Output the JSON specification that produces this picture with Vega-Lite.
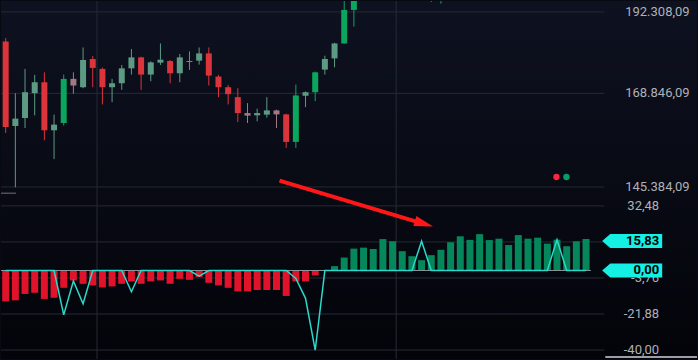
{
  "$schema": "https://vega.github.io/schema/vega-lite/v6.json",
  "width": 698,
  "height": 360,
  "autosize": {"type": "fit", "contains": "padding"},
  "padding": 0,
  "background": "#080a13",
  "config": {
    "view": {"stroke": null, "fill": {"gradient": "linear", "x1": 0, "y1": 0, "x2": 0, "y2": 1, "stops": [{"offset": 0, "color": "#0e1120"}, {"offset": 1, "color": "#030409"}]}},
    "axis": {"disable": true},
    "scale": {"continuousPadding": 0}
  },
  "datasets": {
    "candles": [
      {"i": 0, "o": 183440, "h": 184440, "l": 158490, "c": 160010, "k": "dn"},
      {"i": 1, "o": 160260, "h": 168890, "l": 145310, "c": 162160, "k": "upw"},
      {"i": 2, "o": 162320, "h": 175570, "l": 159750, "c": 169160, "k": "upw"},
      {"i": 3, "o": 168890, "h": 173910, "l": 163010, "c": 171870, "k": "upw"},
      {"i": 4, "o": 171870, "h": 174620, "l": 156660, "c": 159170, "k": "dn"},
      {"i": 5, "o": 159170, "h": 163200, "l": 152000, "c": 160620, "k": "upw"},
      {"i": 6, "o": 161030, "h": 173990, "l": 160370, "c": 172800, "k": "up"},
      {"i": 7, "o": 172800, "h": 174620, "l": 168730, "c": 170970, "k": "dnw"},
      {"i": 8, "o": 170510, "h": 181700, "l": 170240, "c": 178100, "k": "upw"},
      {"i": 9, "o": 178380, "h": 179240, "l": 170510, "c": 175850, "k": "dn"},
      {"i": 10, "o": 175570, "h": 175940, "l": 165890, "c": 170510, "k": "dn"},
      {"i": 11, "o": 170510, "h": 172800, "l": 166490, "c": 171600, "k": "upw"},
      {"i": 12, "o": 171600, "h": 176690, "l": 169800, "c": 175740, "k": "upw"},
      {"i": 13, "o": 175740, "h": 181240, "l": 173990, "c": 178840, "k": "upw"},
      {"i": 14, "o": 178840, "h": 179040, "l": 169800, "c": 173990, "k": "dn"},
      {"i": 15, "o": 173990, "h": 177700, "l": 172140, "c": 177420, "k": "upw"},
      {"i": 16, "o": 177340, "h": 182860, "l": 176690, "c": 178180, "k": "upw"},
      {"i": 17, "o": 177810, "h": 178100, "l": 171600, "c": 174350, "k": "dn"},
      {"i": 18, "o": 174350, "h": 179810, "l": 171870, "c": 178840, "k": "upw"},
      {"i": 19, "o": 177810, "h": 180550, "l": 175290, "c": 177530, "k": "dnw"},
      {"i": 20, "o": 177900, "h": 181700, "l": 176780, "c": 179980, "k": "upw"},
      {"i": 21, "o": 179980, "h": 181700, "l": 170970, "c": 173710, "k": "dn"},
      {"i": 22, "o": 173440, "h": 173910, "l": 167830, "c": 170510, "k": "dn"},
      {"i": 23, "o": 170510, "h": 171160, "l": 165890, "c": 168630, "k": "dn"},
      {"i": 24, "o": 167830, "h": 170240, "l": 161280, "c": 163610, "k": "dn"},
      {"i": 25, "o": 163610, "h": 166230, "l": 161030, "c": 162940, "k": "dnw"},
      {"i": 26, "o": 163010, "h": 164760, "l": 161460, "c": 163610, "k": "upw"},
      {"i": 27, "o": 163200, "h": 167830, "l": 162420, "c": 164310, "k": "upw"},
      {"i": 28, "o": 164310, "h": 164500, "l": 159750, "c": 163270, "k": "dnw"},
      {"i": 29, "o": 163270, "h": 163450, "l": 154760, "c": 156240, "k": "dn"},
      {"i": 30, "o": 156240, "h": 171240, "l": 154760, "c": 168280, "k": "up"},
      {"i": 31, "o": 168200, "h": 169350, "l": 165180, "c": 169160, "k": "upw"},
      {"i": 32, "o": 169160, "h": 174820, "l": 166760, "c": 174620, "k": "up"},
      {"i": 33, "o": 175380, "h": 179320, "l": 173990, "c": 178380, "k": "upw"},
      {"i": 34, "o": 178550, "h": 183060, "l": 176020, "c": 182860, "k": "upw"},
      {"i": 35, "o": 182860, "h": 198500, "l": 182770, "c": 192920, "k": "up"},
      {"i": 36, "o": 192920, "h": 211000, "l": 187870, "c": 208000, "k": "up"},
      {"i": 44, "o": 201000, "h": 207000, "l": 195390, "c": 204500, "k": "up"},
      {"i": 45, "o": 200500, "h": 206500, "l": 194860, "c": 205000, "k": "up"}
    ],
    "ind": [
      {"i": 0, "h": -15.5, "s": 0}, {"i": 1, "h": -15, "s": 0}, {"i": 2, "h": -11.8, "s": 0},
      {"i": 3, "h": -11.2, "s": 0}, {"i": 4, "h": -14.3, "s": 0}, {"i": 5, "h": -13.7, "s": 0},
      {"i": 6, "h": -8.7, "s": -22.3}, {"i": 7, "h": -5, "s": -5.3}, {"i": 8, "h": -6.7, "s": -16.7},
      {"i": 9, "h": -7.5, "s": 0}, {"i": 10, "h": -8.5, "s": 0}, {"i": 11, "h": -8, "s": 0},
      {"i": 12, "h": -6.7, "s": 0}, {"i": 13, "h": -5.5, "s": -10.7}, {"i": 14, "h": -6.7, "s": 0},
      {"i": 15, "h": -5.5, "s": 0}, {"i": 16, "h": -5, "s": 0}, {"i": 17, "h": -6.7, "s": 0},
      {"i": 18, "h": -4.2, "s": 0}, {"i": 19, "h": -4.7, "s": 0}, {"i": 20, "h": -3.3, "s": -2.8},
      {"i": 21, "h": -6.2, "s": 0}, {"i": 22, "h": -7.5, "s": 0}, {"i": 23, "h": -8.7, "s": 0},
      {"i": 24, "h": -10.5, "s": 0}, {"i": 25, "h": -10.5, "s": 0}, {"i": 26, "h": -9.8, "s": 0},
      {"i": 27, "h": -9.8, "s": 0}, {"i": 28, "h": -9.8, "s": 0}, {"i": 29, "h": -12.8, "s": 0},
      {"i": 30, "h": -5.5, "s": -4}, {"i": 31, "h": -5.5, "s": -14}, {"i": 32, "h": -2.5, "s": -40},
      {"i": 33, "h": 0, "s": 0}, {"i": 34, "h": 2.2, "s": 0}, {"i": 35, "h": 6.5, "s": 0},
      {"i": 36, "h": 11, "s": 0}, {"i": 37, "h": 11.5, "s": 0}, {"i": 38, "h": 10.8, "s": 0},
      {"i": 39, "h": 15.8, "s": 0}, {"i": 40, "h": 14.7, "s": 0}, {"i": 41, "h": 9.7, "s": 0},
      {"i": 42, "h": 7.2, "s": 0}, {"i": 43, "h": 5.2, "s": 14.7}, {"i": 44, "h": 7.7, "s": 0},
      {"i": 45, "h": 10.4, "s": 0}, {"i": 46, "h": 14.2, "s": 0}, {"i": 47, "h": 17.2, "s": 0},
      {"i": 48, "h": 15.4, "s": 0}, {"i": 49, "h": 18.3, "s": 0}, {"i": 50, "h": 15.3, "s": 0},
      {"i": 51, "h": 16, "s": 0}, {"i": 52, "h": 12.8, "s": 0}, {"i": 53, "h": 17.8, "s": 0},
      {"i": 54, "h": 16, "s": 0}, {"i": 55, "h": 16.5, "s": 0}, {"i": 56, "h": 13.5, "s": 0},
      {"i": 57, "h": 15.5, "s": 15.5}, {"i": 58, "h": 12.2, "s": 0}, {"i": 59, "h": 14.7, "s": 0},
      {"i": 60, "h": 15.83, "s": 0}
    ],
    "pgrid": [{"p": 145384.09, "t": "145.384,09"}, {"p": 168846.09, "t": "168.846,09"}, {"p": 192308.09, "t": "192.308,09"}],
    "igrid": [{"v": 32.48, "t": "32,48"}, {"v": 14.36, "t": "14,36"}, {"v": -3.76, "t": "-3,76"}, {"v": -21.88, "t": "-21,88"}, {"v": -40, "t": "-40,00"}],
    "vgrid": [{"t": 9.44}, {"t": 40.37}]
  },
  "layer": [
    {
      "layer": [
        {
          "data": {"name": "pgrid"},
          "mark": {"type": "rule", "color": "#252a36", "strokeWidth": 1},
          "encoding": {
            "x": {"datum": -0.4845, "type": "quantitative", "scale": {"domain": [-0.4845, 71.474], "nice": false, "zero": false, "padding": 0}},
            "x2": {"datum": 61.89},
            "y": {"field": "p", "type": "quantitative", "scale": {"type": "log", "domain": [110444, 195697], "nice": false}}
          }
        },
        {
          "data": {"name": "pgrid"},
          "mark": {"type": "text", "align": "left", "baseline": "middle", "font": "Roboto", "fontSize": 13, "color": "#aeb1b8"},
          "encoding": {
            "x": {"datum": 64.05, "type": "quantitative", "scale": {"domain": [-0.4845, 71.474], "nice": false, "zero": false, "padding": 0}},
            "y": {"field": "p", "type": "quantitative", "scale": {"type": "log", "domain": [110444, 195697], "nice": false}},
            "text": {"field": "t"}
          }
        },
        {
          "data": {"name": "vgrid"},
          "mark": {"type": "rule", "color": "#252a36", "strokeWidth": 1},
          "encoding": {
            "x": {"field": "t", "type": "quantitative", "scale": {"domain": [-0.4845, 71.474], "nice": false, "zero": false, "padding": 0}}
          }
        },
        {
          "data": {"name": "candles"},
          "mark": {"type": "rule", "strokeWidth": 1, "clip": true},
          "encoding": {
            "x": {"field": "i", "type": "quantitative", "scale": {"domain": [-0.4845, 71.474], "nice": false, "zero": false, "padding": 0}},
            "y": {"field": "l", "type": "quantitative", "scale": {"type": "log", "domain": [110444, 195697], "nice": false}},
            "y2": {"field": "h"},
            "color": {"field": "k", "type": "nominal", "scale": {"domain": ["up", "upw", "dn", "dnw"], "range": ["#0ba55e", "#5d9a83", "#dc343b", "#9f7b81"]}, "legend": null}
          }
        },
        {
          "data": {"name": "candles"},
          "mark": {"type": "bar", "size": 6, "clip": true},
          "encoding": {
            "x": {"field": "i", "type": "quantitative", "scale": {"domain": [-0.4845, 71.474], "nice": false, "zero": false, "padding": 0}},
            "y": {"field": "o", "type": "quantitative", "scale": {"type": "log", "domain": [110444, 195697], "nice": false}},
            "y2": {"field": "c"},
            "color": {"field": "k", "type": "nominal", "scale": {"domain": ["up", "upw", "dn", "dnw"], "range": ["#0ba55e", "#5d9a83", "#dc343b", "#9f7b81"]}, "legend": null}
          }
        }
      ]
    },
    {
      "layer": [
        {
          "data": {"name": "igrid"},
          "mark": {"type": "rule", "color": "#252a36", "strokeWidth": 1},
          "encoding": {
            "x": {"datum": -0.4845, "type": "quantitative", "scale": {"domain": [-0.4845, 71.474], "nice": false, "zero": false, "padding": 0}},
            "x2": {"datum": 61.89},
            "y": {"field": "v", "type": "quantitative", "scale": {"domain": [-44.5, 135.5], "nice": false, "zero": false}}
          }
        },
        {
          "data": {"name": "igrid"},
          "mark": {"type": "text", "align": "right", "baseline": "middle", "font": "Roboto", "fontSize": 13, "color": "#aeb1b8"},
          "encoding": {
            "x": {"datum": 67.56, "type": "quantitative", "scale": {"domain": [-0.4845, 71.474], "nice": false, "zero": false, "padding": 0}},
            "y": {"field": "v", "type": "quantitative", "scale": {"domain": [-44.5, 135.5], "nice": false, "zero": false}},
            "text": {"field": "t"}
          }
        },
        {
          "data": {"name": "ind"},
          "mark": {"type": "bar", "size": 7},
          "encoding": {
            "x": {"field": "i", "type": "quantitative", "scale": {"domain": [-0.4845, 71.474], "nice": false, "zero": false, "padding": 0}},
            "y": {"field": "h", "type": "quantitative", "scale": {"domain": [-44.5, 135.5], "nice": false, "zero": false}},
            "y2": {"datum": 0},
            "color": {"condition": {"test": "datum.h < 0", "value": "#e0132a"}, "value": "#06865b"}
          }
        },
        {
          "data": {"values": [{}]},
          "mark": {"type": "rule", "color": "#8b9597", "strokeWidth": 1},
          "encoding": {
            "x": {"datum": -0.4845, "type": "quantitative", "scale": {"domain": [-0.4845, 71.474], "nice": false, "zero": false, "padding": 0}},
            "x2": {"datum": 60.5},
            "y": {"datum": 0, "type": "quantitative", "scale": {"domain": [-44.5, 135.5], "nice": false, "zero": false}}
          }
        },
        {
          "data": {"name": "ind"},
          "mark": {"type": "line", "color": "#2bd8c9", "strokeWidth": 1.5},
          "encoding": {
            "x": {"field": "i", "type": "quantitative", "scale": {"domain": [-0.4845, 71.474], "nice": false, "zero": false, "padding": 0}},
            "y": {"field": "s", "type": "quantitative", "scale": {"domain": [-44.5, 135.5], "nice": false, "zero": false}}
          }
        },
        {
          "data": {"values": [{}]},
          "mark": {"type": "rule", "color": "#ff1717", "strokeWidth": 4},
          "encoding": {
            "x": {"datum": 28.31, "type": "quantitative", "scale": {"domain": [-0.4845, 71.474], "nice": false, "zero": false, "padding": 0}},
            "x2": {"datum": 42.8},
            "y": {"datum": 45.15, "type": "quantitative", "scale": {"domain": [-44.5, 135.5], "nice": false, "zero": false}},
            "y2": {"datum": 24.1}
          }
        },
        {
          "data": {"values": [{}]},
          "mark": {"type": "point", "shape": "M0,0 L-2,-0.55 L-2,0.55 Z", "size": 361, "angle": 16.6, "filled": true, "fill": "#ff1717", "opacity": 1, "strokeWidth": 0},
          "encoding": {
            "x": {"datum": 44.19, "type": "quantitative", "scale": {"domain": [-0.4845, 71.474], "nice": false, "zero": false, "padding": 0}},
            "y": {"datum": 22.15, "type": "quantitative", "scale": {"domain": [-44.5, 135.5], "nice": false, "zero": false}}
          }
        },
        {
          "data": {"values": [{}]},
          "mark": {"type": "point", "shape": "circle", "size": 40, "filled": true, "fill": "#f5283f", "opacity": 1, "strokeWidth": 0},
          "encoding": {
            "x": {"datum": 56.94, "type": "quantitative", "scale": {"domain": [-0.4845, 71.474], "nice": false, "zero": false, "padding": 0}},
            "y": {"datum": 47, "type": "quantitative", "scale": {"domain": [-44.5, 135.5], "nice": false, "zero": false}}
          }
        },
        {
          "data": {"values": [{}]},
          "mark": {"type": "point", "shape": "circle", "size": 40, "filled": true, "fill": "#0a9b6b", "opacity": 1, "strokeWidth": 0},
          "encoding": {
            "x": {"datum": 57.97, "type": "quantitative", "scale": {"domain": [-0.4845, 71.474], "nice": false, "zero": false, "padding": 0}},
            "y": {"datum": 47, "type": "quantitative", "scale": {"domain": [-44.5, 135.5], "nice": false, "zero": false}}
          }
        },
        {
          "data": {"values": [{"v": 14.8}, {"v": 0}]},
          "mark": {"type": "point", "shape": "M-1,0 L-0.73,-0.233 L1,-0.233 L1,0.233 L-0.73,0.233 Z", "size": 3600, "filled": true, "fill": "#14f0e3", "opacity": 1, "strokeWidth": 0},
          "encoding": {
            "x": {"datum": 64.77, "type": "quantitative", "scale": {"domain": [-0.4845, 71.474], "nice": false, "zero": false, "padding": 0}},
            "y": {"field": "v", "type": "quantitative", "scale": {"domain": [-44.5, 135.5], "nice": false, "zero": false}}
          }
        },
        {
          "data": {"values": [{"v": 14.8, "t": "15,83"}, {"v": 0, "t": "0,00"}]},
          "mark": {"type": "text", "align": "right", "baseline": "middle", "font": "Roboto", "fontSize": 13, "fontWeight": "bold", "color": "#000000"},
          "encoding": {
            "x": {"datum": 67.56, "type": "quantitative", "scale": {"domain": [-0.4845, 71.474], "nice": false, "zero": false, "padding": 0}},
            "y": {"field": "v", "type": "quantitative", "scale": {"domain": [-44.5, 135.5], "nice": false, "zero": false}},
            "text": {"field": "t"}
          }
        },
        {
          "data": {"values": [{}]},
          "mark": {"type": "rule", "color": "#cfd2d8", "strokeWidth": 1.5},
          "encoding": {
            "x": {"datum": 61.99, "type": "quantitative", "scale": {"domain": [-0.4845, 71.474], "nice": false, "zero": false, "padding": 0}},
            "x2": {"datum": 71.474},
            "y": {"datum": -43.5, "type": "quantitative", "scale": {"domain": [-44.5, 135.5], "nice": false, "zero": false}}
          }
        },
        {
          "data": {"values": [{}]},
          "mark": {"type": "rule", "color": "#4b505c", "strokeWidth": 1.5},
          "encoding": {
            "x": {"datum": -0.4845, "type": "quantitative", "scale": {"domain": [-0.4845, 71.474], "nice": false, "zero": false, "padding": 0}},
            "x2": {"datum": 1.06},
            "y": {"datum": 38.85, "type": "quantitative", "scale": {"domain": [-44.5, 135.5], "nice": false, "zero": false}}
          }
        }
      ]
    }
  ],
  "resolve": {"scale": {"y": "independent"}}
}
